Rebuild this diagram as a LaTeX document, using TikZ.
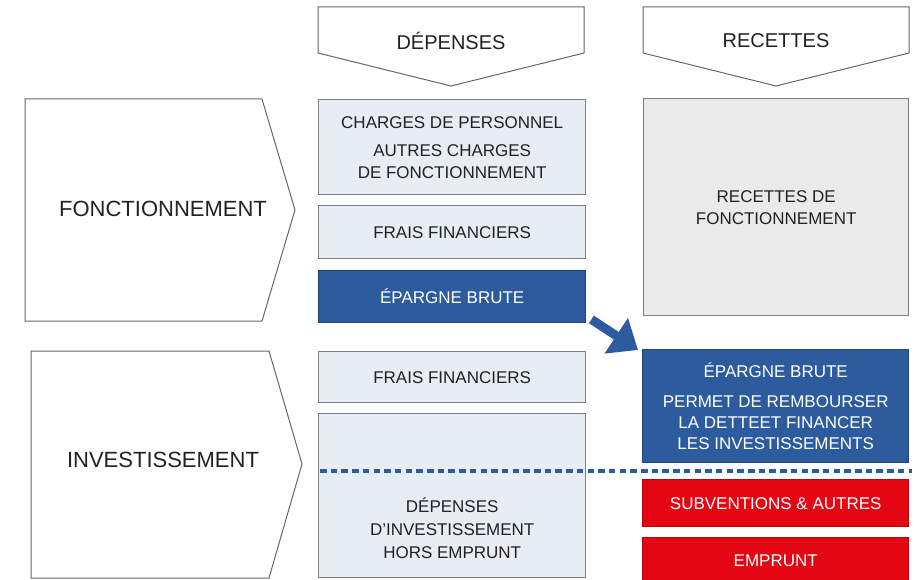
\documentclass[tikz,border=0pt]{standalone}
\usepackage{fontspec}
\setmainfont{Liberation Sans}
\usetikzlibrary{arrows.meta}
\definecolor{fonce}{HTML}{2C5C9E}
\definecolor{vif}{HTML}{E30613}
\definecolor{clair}{HTML}{E7ECF5}
\definecolor{gris}{HTML}{EAEAEA}
\definecolor{bord}{HTML}{7F7F7F}
\definecolor{encre}{HTML}{222222}

\begin{document}
\begin{tikzpicture}[x=1pt, y=-1pt,
  trait/.style={draw=bord!80!black, line width=1pt},
  titre/.style={text=encre, font=\fontsize{20}{24}\selectfont},
  grand/.style={text=encre, font=\fontsize{22}{26}\selectfont},
  boite/.style={draw=bord, line width=1.4pt, anchor=north west, minimum width=267pt,
    inner sep=0pt, align=center, font=\fontsize{17}{22}\selectfont},
  boiteclaire/.style={boite, fill=clair, text=encre},
  boitebleue/.style={boite, fill=fonce, draw=fonce!75!black, text=white},
  boiterouge/.style={boite, fill=vif, draw=vif!80!black, text=white},
  boitegrise/.style={boite, fill=gris, text=encre},
  coupe/.style={fonce, line width=4pt, dash pattern=on 6.5pt off 4.2pt},
  fleche/.style={fonce, line width=9pt, -{Triangle[length=26pt,width=41pt]}}]
\useasboundingbox (0,0) rectangle (920,580);

\draw[trait] (318,7) -- (584,7) -- (584,53) -- (451,86) -- (318,53) -- cycle;
\node[titre] (dep) at (451,41) {DÉPENSES};
\draw[trait] (643,7) -- (909,7) -- (909,53) -- (776,86) -- (643,53) -- cycle;
\node[titre] (rec) at (776,41) {RECETTES};

\draw[trait] (25,99) -- (262,99) -- (295,210) -- (262,321) -- (25,321) -- cycle;
\node[grand] (fonct) at (163,209) {FONCTIONNEMENT};
\draw[trait] (31,351) -- (269,351) -- (302,464) -- (269,578) -- (31,578) -- cycle;
\node[grand] (invest) at (163,460) {INVESTISSEMENT};

\node[boiteclaire, minimum height=95pt] (charges) at (318,99)
  {CHARGES DE PERSONNEL\\[6pt]AUTRES CHARGES\\DE FONCTIONNEMENT};
\node[boiteclaire, minimum height=53pt] (fraisF) at (318,205) {FRAIS FINANCIERS};
\node[boitebleue, minimum height=52pt] (epF) at (318,270) {ÉPARGNE BRUTE};
\node[boiteclaire, minimum height=51pt] (fraisI) at (318,351) {FRAIS FINANCIERS};
\node[boiteclaire, minimum height=164pt] (depI) at (318,413) {};
\node[text=encre, align=center, font=\fontsize{17}{23}\selectfont] (depItxt)
  at ([yshift=-33pt]depI.center) {DÉPENSES\\D’INVESTISSEMENT\\HORS EMPRUNT};

\node[boitegrise, minimum width=265pt, minimum height=217pt] (recF) at (643,98)
  {RECETTES DE\\FONCTIONNEMENT};
\node[boitebleue, minimum width=266pt, minimum height=113pt, font=\fontsize{17}{21}\selectfont] (epI) at (642,349)
  {ÉPARGNE BRUTE\\[9pt]PERMET DE REMBOURSER\\LA DETTEET FINANCER\\LES INVESTISSEMENTS};
\node[boiterouge, minimum width=266pt, minimum height=47pt] (subv) at (642,479) {SUBVENTIONS \& AUTRES};
\node[boiterouge, minimum width=266pt, minimum height=46pt] (empr) at (642,537) {EMPRUNT};

\draw[fleche] ([xshift=5pt,yshift=4pt]epF.south east) -- ([xshift=-4pt,yshift=-1pt]epI.north west);

\coordinate (coupeG) at (320,471);
\coordinate (coupeD) at (912,471);
\draw[coupe] (coupeG) -- (coupeD);
\end{tikzpicture}
\end{document}
